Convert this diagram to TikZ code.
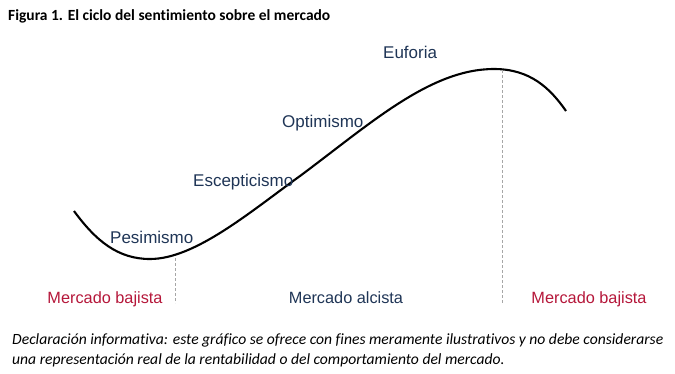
\documentclass[tikz,border=0pt]{standalone}
\usepackage{fontspec}
\setmainfont{Liberation Sans}
\newfontfamily\calib[Ligatures=NoCommon]{Carlito}
\definecolor{navy}{HTML}{1F3556}
\definecolor{bred}{HTML}{B5173A}
\definecolor{dgray}{HTML}{A6A6A6}
\begin{document}
\begin{tikzpicture}[x=1pt,y=-1pt,
  phase/.style={text=navy,font=\fontsize{17}{20}\selectfont,inner sep=0pt,anchor=base west},
  market/.style={font=\fontsize{16.3}{19}\selectfont,inner sep=0pt,anchor=base},
  divider/.style={dgray,line width=0.9pt,dash pattern=on 2.5pt off 2.5pt}]
\useasboundingbox (0,0) rectangle (675,373);
\node[inner sep=0pt,anchor=base west,font=\calib\bfseries\fontsize{15.5}{18}\selectfont] (title) at (8,20) {Figura 1. El ciclo del sentimiento sobre el mercado};
\coordinate (c0) at (74,211);
\coordinate (cmin) at (150,259);
\coordinate (cinf) at (300,176);
\coordinate (cmax) at (494,69);
\coordinate (cend) at (566,111);
\draw[line width=2.1pt,black] (c0) .. controls (96,241) and (118,259) .. (cmin)
  .. controls (195,259) and (250,212) .. (cinf)
  .. controls (370,124) and (430,69) .. (cmax)
  .. controls (530,69) and (550,88) .. (cend);
\coordinate (d1t) at (175,258);
\coordinate (d1b) at (175,303);
\coordinate (d2t) at (502,70);
\coordinate (d2b) at (502,303);
\draw[divider] (d1t) -- (d1b);
\draw[divider] (d2t) -- (d2b);
\node[phase] (pes) at (110,243) {Pesimismo};
\node[phase] (esc) at (193,186) {Escepticismo};
\node[phase] (opt) at (282,127) {Optimismo};
\node[phase] (euf) at (383,58) {Euforia};
\node[market,text=bred] (mb1) at (105,303) {Mercado bajista};
\node[market,text=navy] (ma) at (346,303) {Mercado alcista};
\node[market,text=bred] (mb2) at (589,303) {Mercado bajista};
\node[inner sep=0pt,anchor=base west,align=left,font=\calib\itshape\fontsize{15.6}{20}\selectfont] (note) at (12,364) {Declaración informativa: este gráfico se ofrece con fines meramente ilustrativos y no debe considerarse\\una representación real de la rentabilidad o del comportamiento del mercado.};
\end{tikzpicture}
\end{document}
